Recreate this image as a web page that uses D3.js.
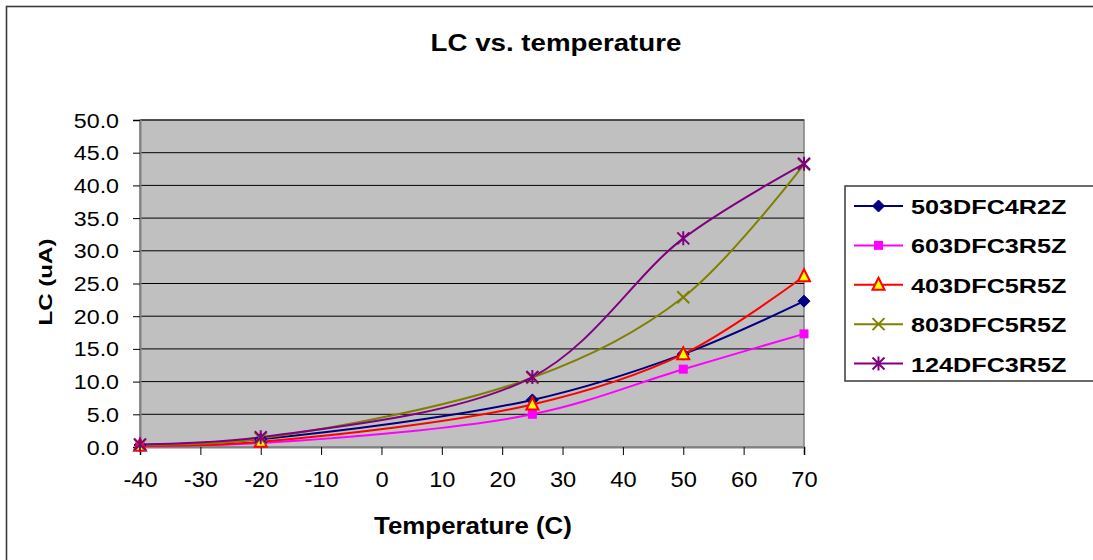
<!DOCTYPE html>
<html>
<head>
<meta charset="utf-8">
<script src="https://cdn.jsdelivr.net/npm/d3@7/dist/d3.min.js"></script>
<style>
  html, body { margin: 0; padding: 0; background: #fff; }
  svg { display: block; font-family: "Liberation Sans", Arial, sans-serif; }
</style>
</head>
<body>
<svg id="chart" width="1093" height="560"></svg>
<script>
// ---- data ----
const temperatures = [-40, -20, 25, 50, 70];
const seriesNames = ["503DFC4R2Z", "603DFC3R5Z", "403DFC5R5Z", "803DFC5R5Z", "124DFC3R5Z"];
const s503DFC4R2Z = [0.3, 1.2, 7.2, 14.2, 22.3];
const s603DFC3R5Z = [0.2, 0.6, 5.0, 11.9, 17.3];
const s403DFC5R5Z = [0.2, 0.8, 6.5, 14.2, 26.1];
const s803DFC5R5Z = [0.3, 1.3, 10.6, 22.9, 43.2];
const s124DFC3R5Z = [0.4, 1.5, 10.7, 31.9, 43.3];
const xTicks = [-40, -30, -20, -10, 0, 10, 20, 30, 40, 50, 60, 70];
const yTicks = [0, 5, 10, 15, 20, 25, 30, 35, 40, 45, 50];
const titleText = "LC vs. temperature";
const xTitle = "Temperature (C)";
const yTitle = "LC (uA)";

const seriesValues = [s503DFC4R2Z, s603DFC3R5Z, s403DFC5R5Z, s803DFC5R5Z, s124DFC3R5Z];
const styles = [
  { color: "#000080", marker: "diamond" },
  { color: "#FF00FF", marker: "square" },
  { color: "#FF0000", marker: "triangle" },
  { color: "#808000", marker: "x" },
  { color: "#800080", marker: "star" }
];

const svg = d3.select("#chart");
const plot = { left: 140, right: 804, top: 120, bottom: 447 };

const x = d3.scaleLinear().domain([-40, 70]).range([plot.left, plot.right]);
const y = d3.scaleLinear().domain([0, 50]).range([plot.bottom, plot.top]);

// widen glyphs like the reference's stretched rendering
function stretch(sel, factor) {
  sel.each(function () {
    const len = this.getComputedTextLength();
    d3.select(this).attr("textLength", len * factor).attr("lengthAdjust", "spacingAndGlyphs");
  });
}

// outer border
svg.append("rect").attr("x", 6.5).attr("y", 6.5).attr("width", 1200).attr("height", 700)
  .attr("fill", "#fff").attr("stroke", "#3a3a3a").attr("stroke-width", 1.6);

// plot area
svg.append("rect").attr("x", plot.left).attr("y", plot.top)
  .attr("width", plot.right - plot.left).attr("height", plot.bottom - plot.top)
  .attr("fill", "#C0C0C0").attr("stroke", "#808080").attr("stroke-width", 1.5);

// gridlines
svg.append("g").selectAll("line").data(yTicks.filter(d => d > 0)).join("line")
  .attr("x1", plot.left).attr("x2", plot.right)
  .attr("y1", d => y(d)).attr("y2", d => y(d))
  .attr("stroke", "#000").attr("stroke-width", 1);

// axes
const yAxis = svg.append("g").attr("transform", `translate(${plot.left},0)`)
  .call(d3.axisLeft(y).tickValues(yTicks).tickFormat(d3.format(".1f")).tickSize(7).tickPadding(14));
const xAxis = svg.append("g").attr("transform", `translate(0,${plot.bottom})`)
  .call(d3.axisBottom(x).tickValues(xTicks).tickFormat(d3.format("d")).tickSize(8).tickPadding(17));
[yAxis, xAxis].forEach(a => {
  a.select(".domain").attr("stroke", "#808080").attr("stroke-width", 2);
  a.selectAll(".tick line").attr("stroke", "#000").attr("stroke-width", 1);
  a.selectAll(".tick text").attr("fill", "#000").attr("font-family", "'Liberation Sans', Arial, sans-serif");
});
yAxis.selectAll(".tick text").attr("font-size", 19.5).attr("dy", "0.36em");
xAxis.selectAll(".tick text").attr("font-size", 21.5).text(d => String(d));
stretch(yAxis.selectAll(".tick text"), 1.19);
stretch(xAxis.selectAll(".tick text"), 1.1);

// titles
const t1 = svg.append("text").attr("x", 556).attr("y", 51).attr("text-anchor", "middle")
  .attr("font-size", 24.5).attr("font-weight", "bold").text(titleText);
stretch(t1, 1.13);
const t2 = svg.append("text").attr("x", 473).attr("y", 534).attr("text-anchor", "middle")
  .attr("font-size", 23.5).attr("font-weight", "bold").text(xTitle);
stretch(t2, 1.1);
const t3 = svg.append("text").attr("transform", "translate(52,282) rotate(-90)").attr("text-anchor", "middle")
  .attr("font-size", 19).attr("font-weight", "bold").text(yTitle);
stretch(t3, 1.27);

// markers
function drawMarker(g, type, color, cx, cy) {
  if (type === "diamond") {
    g.append("path").attr("d", `M${cx},${cy-6}L${cx+6},${cy}L${cx},${cy+6}L${cx-6},${cy}Z`)
      .attr("fill", color).attr("stroke", color);
  } else if (type === "square") {
    g.append("rect").attr("x", cx - 4.5).attr("y", cy - 4.5).attr("width", 9).attr("height", 9)
      .attr("fill", color);
  } else if (type === "triangle") {
    g.append("path").attr("d", `M${cx},${cy-7}L${cx+6},${cy+5}L${cx-6},${cy+5}Z`)
      .attr("fill", "#FFFF00").attr("stroke", color).attr("stroke-width", 2);
  } else if (type === "x") {
    g.append("path").attr("d", `M${cx-6},${cy-6}L${cx+6},${cy+6}M${cx-6},${cy+6}L${cx+6},${cy-6}`)
      .attr("stroke", color).attr("stroke-width", 2).attr("fill", "none");
  } else if (type === "star") {
    g.append("path").attr("d", `M${cx-6},${cy-6}L${cx+6},${cy+6}M${cx-6},${cy+6}L${cx+6},${cy-6}M${cx},${cy-7}L${cx},${cy+7}`)
      .attr("stroke", color).attr("stroke-width", 2).attr("fill", "none");
  }
}

const line = d3.line().x(d => x(d[0])).y(d => y(d[1])).curve(d3.curveCatmullRom.alpha(0.5));
const lineLayer = svg.append("g");
const markerLayer = svg.append("g");
seriesValues.forEach((vals, i) => {
  const pts = temperatures.map((t, j) => [t, vals[j]]);
  lineLayer.append("path").datum(pts).attr("d", line)
    .attr("fill", "none").attr("stroke", styles[i].color).attr("stroke-width", 2);
});
seriesValues.forEach((vals, i) => {
  temperatures.forEach((t, j) => drawMarker(markerLayer, styles[i].marker, styles[i].color, x(t), y(vals[j])));
});

// legend
svg.append("rect").attr("x", 845).attr("y", 186).attr("width", 300).attr("height", 195)
  .attr("fill", "#fff").attr("stroke", "#3a3a3a").attr("stroke-width", 1.5);
const legendY = d3.scalePoint().domain(seriesNames).range([206, 363.5]);
seriesNames.forEach((name, i) => {
  const ly = legendY(name);
  const g = svg.append("g");
  g.append("line").attr("x1", 854).attr("x2", 903).attr("y1", ly).attr("y2", ly)
    .attr("stroke", styles[i].color).attr("stroke-width", 2);
  drawMarker(g, styles[i].marker, styles[i].color, 878.5, ly);
  const tx = g.append("text").attr("x", 911).attr("y", ly + 8)
    .attr("font-size", 21).attr("font-weight", "bold").text(name);
  stretch(tx, 1.2);
});
</script>
</body>
</html>
